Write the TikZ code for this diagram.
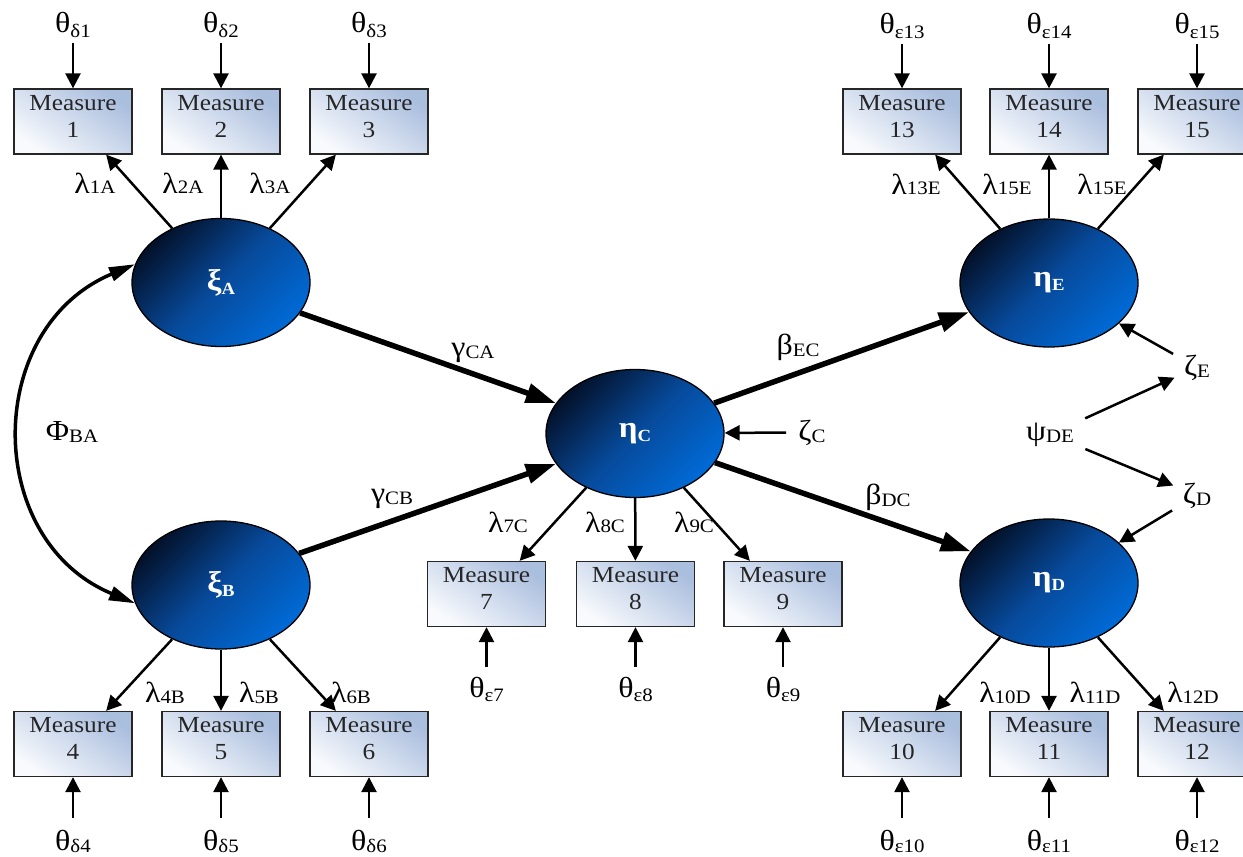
\documentclass[tikz,border=0pt]{standalone}
\usepackage{fontspec}
\setmainfont{Liberation Serif}[FakeStretch=1.1]
\usetikzlibrary{arrows.meta,shapes.geometric}

% Greek symbol with a smaller subscript, lowered by the optional amount
\newcommand\gs[3][2pt]{{\fontsize{29}{29}\selectfont #2}\raisebox{-#1}{\fontsize{19}{19}\selectfont #3}}
% white bold label inside a latent variable
\newcommand\lv[2]{{\fontsize{30}{30}\selectfont\bfseries #1}\raisebox{-4pt}{\fontsize{17}{17}\selectfont\bfseries #2}}

\definecolor{boxdark}{RGB}{170,190,222}
\definecolor{boxlight}{RGB}{248,250,253}
\definecolor{latdark}{RGB}{3,17,42}
\definecolor{latmid}{RGB}{7,74,155}
\definecolor{latlight}{RGB}{0,106,214}

\tikzset{
  meas/.style={rectangle, draw=black!85, line width=1.3pt,
    minimum width=118pt, minimum height=65pt, inner sep=0pt,
    align=center, font=\fontsize{23}{27}\selectfont, text=black!85,
    text depth=11pt,
    top color=boxdark, bottom color=boxlight, shading angle=-35},
  lat/.style={ellipse, draw=black, line width=1.3pt,
    minimum width=178pt, minimum height=128pt, inner sep=0pt,
    top color=latdark, bottom color=latlight, middle color=latmid,
    shading angle=45, text=white},
  lbl/.style={inner sep=2pt, anchor=base},
  arr/.style={-{Triangle[length=15pt,width=15pt]}, line width=2.5pt},
  big/.style={-{Triangle[length=30pt,width=19pt]}, line width=5.5pt},
  cov/.style={{Triangle[length=26pt,width=14pt]}-{Triangle[length=26pt,width=14pt]}, line width=3.5pt},
}

\begin{document}
\begin{tikzpicture}[x=1pt,y=-1pt]
\useasboundingbox (0,0) rectangle (1243,857);
\clip (0,0) rectangle (1243,857);

% observed measures
\node[meas] (m1)  at (73,121.5)   {Measure\\1};
\node[meas] (m2)  at (221,121.5)  {Measure\\2};
\node[meas] (m3)  at (369,121.5)  {Measure\\3};
\node[meas] (m13) at (902,121.5)  {Measure\\13};
\node[meas] (m14) at (1049,121.5) {Measure\\14};
\node[meas] (m15) at (1197,121.5) {Measure\\15};
\node[meas] (m7)  at (486.5,594)  {Measure\\7};
\node[meas] (m8)  at (635.5,594)  {Measure\\8};
\node[meas] (m9)  at (783,594)    {Measure\\9};
\node[meas] (m4)  at (73,744)     {Measure\\4};
\node[meas] (m5)  at (221,744)    {Measure\\5};
\node[meas] (m6)  at (369,744)    {Measure\\6};
\node[meas] (m10) at (902,744)    {Measure\\10};
\node[meas] (m11) at (1049,744)   {Measure\\11};
\node[meas] (m12) at (1197,744)   {Measure\\12};

% latent variables
\node[lat] (xiA)  at (221,282.5) {\lv{ξ}{A}};
\node[lat] (xiB)  at (221,585)   {\lv{ξ}{B}};
\node[lat] (etaC) at (635,433.5) {\lv{η}{C}};
\node[lat] (etaE) at (1049,283)  {\lv{η}{E}};
\node[lat] (etaD) at (1049,583)  {\lv{η}{D}};

% measurement errors
\node[lbl] (t1)  at (73,32)    {\gs[5pt]{θ}{δ1}};
\node[lbl] (t2)  at (221,32)   {\gs[5pt]{θ}{δ2}};
\node[lbl] (t3)  at (369,32)   {\gs[5pt]{θ}{δ3}};
\node[lbl] (t13) at (902,33)   {\gs[5pt]{θ}{ε13}};
\node[lbl] (t14) at (1049,33)  {\gs[5pt]{θ}{ε14}};
\node[lbl] (t15) at (1197,33)  {\gs[5pt]{θ}{ε15}};
\node[lbl] (t7)  at (486.5,697) {\gs[4pt]{θ}{ε7}};
\node[lbl] (t8)  at (635.5,697) {\gs[4pt]{θ}{ε8}};
\node[lbl] (t9)  at (783,697)   {\gs[4pt]{θ}{ε9}};
\node[lbl] (t4)  at (73,850)   {\gs[2pt]{θ}{δ4}};
\node[lbl] (t5)  at (221,850)  {\gs[2pt]{θ}{δ5}};
\node[lbl] (t6)  at (369,850)  {\gs[2pt]{θ}{δ6}};
\node[lbl] (t10) at (902,850)  {\gs[2pt]{θ}{ε10}};
\node[lbl] (t11) at (1049,850) {\gs[2pt]{θ}{ε11}};
\node[lbl] (t12) at (1197,850) {\gs[2pt]{θ}{ε12}};

% loadings
\node[lbl] (l1)  at (95,193)   {\gs[0pt]{λ}{1A}};
\node[lbl] (l2)  at (183,193)  {\gs[0pt]{λ}{2A}};
\node[lbl] (l3)  at (270,193)  {\gs[0pt]{λ}{3A}};
\node[lbl] (l13) at (916,194)  {\gs[0pt]{λ}{13E}};
\node[lbl] (l14) at (1007,194) {\gs[0pt]{λ}{15E}};
\node[lbl] (l15) at (1102,194) {\gs[0pt]{λ}{15E}};
\node[lbl] (l7)  at (508,532)  {\gs[0pt]{λ}{7C}};
\node[lbl] (l8)  at (605,532)  {\gs[0pt]{λ}{8C}};
\node[lbl] (l9)  at (694,532)  {\gs[0pt]{λ}{9C}};
\node[lbl] (l4)  at (165,702)  {\gs[1pt]{λ}{4B}};
\node[lbl] (l5)  at (259,702)  {\gs[1pt]{λ}{5B}};
\node[lbl] (l6)  at (351,702)  {\gs[1pt]{λ}{6B}};
\node[lbl] (l10) at (1005,702) {\gs[1pt]{λ}{10D}};
\node[lbl] (l11) at (1095,702) {\gs[1pt]{λ}{11D}};
\node[lbl] (l12) at (1193,702) {\gs[1pt]{λ}{12D}};

% structural paths and disturbances
\node[lbl] (gCA) at (473,356)  {\gs{γ}{CA}};
\node[lbl] (gCB) at (392,502)  {\gs{γ}{CB}};
\node[lbl] (bEC) at (798,354)  {\gs{β}{EC}};
\node[lbl] (bDC) at (888,504)  {\gs{β}{DC}};
\node[lbl] (zC)  at (812,440)  {\gs{ζ}{C}};
\node[lbl] (psi) at (1050,440) {\gs{ψ}{DE}};
\node[lbl] (zE)  at (1197,375) {\gs{ζ}{E}};
\node[lbl] (zD)  at (1197,503) {\gs{ζ}{D}};
\node[lbl] (phi) at (72,440)   {\gs{Φ}{BA}};

% error arrows into the measures
\foreach \t/\m in {t1/m1,t2/m2,t3/m3,t13/m13,t14/m14,t15/m15}
  \draw[arr, shorten <=4pt] (\t) -- (\m);
\foreach \t/\m in {t7/m7,t8/m8,t9/m9}
  \draw[arr, shorten <=8pt] (\t) -- (\m);
\foreach \t/\m in {t4/m4,t5/m5,t6/m6,t10/m10,t11/m11,t12/m12}
  \draw[arr, shorten <=10pt] (\t) -- (\m);

% loadings from the latent variables
\draw[arr] (xiA.132) -- (m1.-45);
\draw[arr] (xiA) -- (m2);
\draw[arr] (xiA.48) -- (m3.-135);
\draw[arr] (etaE.132) -- (m13.-45);
\draw[arr] (etaE) -- (m14);
\draw[arr] (etaE.48) -- (m15.-135);
\draw[arr] (etaC.-132) -- (m7.45);
\draw[arr] (etaC) -- (m8);
\draw[arr] (etaC.-48) -- (m9.135);
\draw[arr] (xiB.-132) -- (m4.45);
\draw[arr] (xiB) -- (m5);
\draw[arr] (xiB.-48) -- (m6.135);
\draw[arr] (etaD.-132) -- (m10.45);
\draw[arr] (etaD) -- (m11);
\draw[arr] (etaD.-48) -- (m12.135);

% structural paths
\draw[big] (xiA.-21) -- (etaC.159);
\draw[big] (xiB.22) -- (etaC.201);
\draw[big] (etaC.21) -- (etaE.200);
\draw[big] (etaC.-20) -- (etaD.158);

% disturbances
\draw[arr, shorten <=10pt] (zC) -- (etaC);
\draw[arr, shorten <=10pt] (zE) -- (etaE.-30);
\draw[arr, shorten <=10pt] (zD) -- (etaD.30);
\draw[arr, shorten <=10pt, shorten >=8pt] (psi) -- (zE);
\draw[arr, shorten <=10pt, shorten >=8pt] (psi) -- (zD);

% covariance of the exogenous factors
\draw[cov] (xiA.168) .. controls (-17,328) and (-17,540) .. (xiB.192);
\end{tikzpicture}
\end{document}
